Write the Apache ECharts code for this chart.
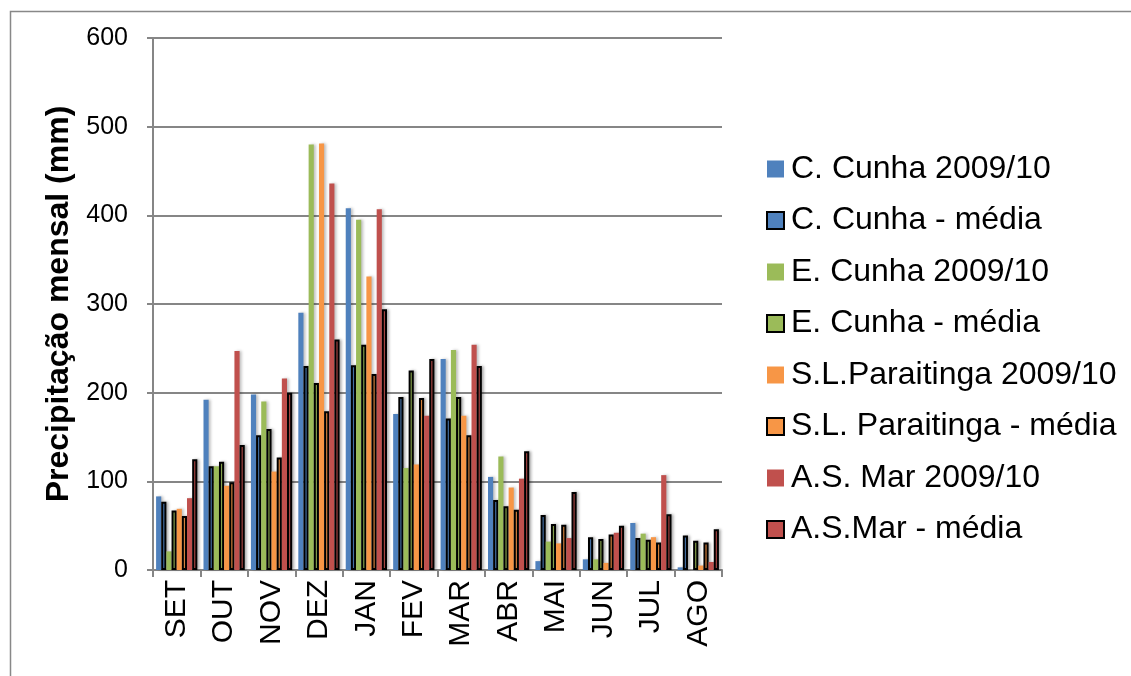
<!DOCTYPE html>
<html>
<head>
<meta charset="utf-8">
<script src="https://cdn.jsdelivr.net/npm/echarts@6/dist/echarts.min.js"></script>
<style>
  html, body { margin: 0; padding: 0; background: #fff; }
  #chart { width: 1131px; height: 676px; }
</style>
</head>
<body>
<div id="chart"></div>
<script>
// meses e precipitação (mm)
var months = ['SET', 'OUT', 'NOV', 'DEZ', 'JAN', 'FEV', 'MAR', 'ABR', 'MAI', 'JUN', 'JUL', 'AGO'];
var yTicks = [0, 100, 200, 300, 400, 500, 600];

var cCunha2009 = [83, 192, 198, 290, 408, 176, 238, 105, 10, 12, 53, 3];
var cCunhaMedia = [77, 117, 152, 230, 231, 195, 171, 79, 62, 37, 36, 39];
var eCunha2009 = [21, 117, 190, 480, 395, 115, 248, 128, 32, 12, 41, 0];
var eCunhaMedia = [67, 122, 159, 211, 254, 225, 195, 72, 52, 35, 34, 33];
var slp2009 = [69, 95, 111, 481, 331, 119, 174, 93, 30, 8, 37, 5];
var slpMedia = [61, 99, 127, 179, 221, 194, 152, 68, 51, 40, 31, 31];
var asMar2009 = [81, 247, 216, 436, 407, 174, 254, 103, 36, 42, 107, 9];
var asMarMedia = [125, 141, 200, 260, 294, 238, 230, 134, 88, 50, 63, 46];

var font = "Arial, 'Liberation Sans', sans-serif";

function bar(name, data, color, media) {
  var style = {
    color: color,
    shadowColor: 'rgba(0,0,0,0.25)',
    shadowBlur: 3,
    shadowOffsetX: 2
  };
  if (media) {
    style.borderColor = '#000';
    style.borderWidth = 2;
  }
  return {
    name: name,
    type: 'bar',
    data: data,
    barGap: '0%',
    barCategoryGap: '13%',
    itemStyle: style
  };
}

var myChart = echarts.init(document.getElementById('chart'));
var option = {
  backgroundColor: '#fff',
  animation: false,
  graphic: [{
    type: 'rect',
    left: 8, top: 9,
    shape: { width: 1200, height: 800 },
    style: { fill: 'none', stroke: '#888', lineWidth: 1.5 }
  }],
  grid: { left: 153, right: 409, top: 38, bottom: 106 },
  legend: {
    orient: 'vertical',
    left: 766,
    top: 153,
    padding: 0,
    itemWidth: 17,
    itemHeight: 17,
    itemGap: 19.5,
    icon: 'rect',
    itemStyle: { shadowBlur: 0, shadowOffsetX: 0, shadowColor: 'transparent' },
    textStyle: { fontFamily: font, fontSize: 32, lineHeight: 30, color: '#000', padding: [0, 0, 0, 2] }
  },
  xAxis: {
    type: 'category',
    data: months,
    axisLine: { lineStyle: { color: '#868686', width: 2 } },
    axisTick: { show: true, length: 7, lineStyle: { color: '#868686', width: 2 } },
    axisLabel: { rotate: 90, margin: 10, fontFamily: font, fontSize: 30, color: '#000' }
  },
  yAxis: {
    type: 'value',
    min: yTicks[0],
    max: yTicks[yTicks.length - 1],
    interval: 100,
    name: 'Precipitação mensal (mm)',
    nameLocation: 'middle',
    nameGap: 74,
    nameTextStyle: { fontFamily: font, fontSize: 32, fontWeight: 'bold', color: '#000' },
    axisLine: { show: true, lineStyle: { color: '#868686', width: 2 } },
    axisTick: { show: true, length: 6, lineStyle: { color: '#868686', width: 2 } },
    axisLabel: { margin: 25, fontFamily: font, fontSize: 25, color: '#000' },
    splitLine: { lineStyle: { color: '#868686', width: 2 } }
  },
  series: [
    bar('C. Cunha 2009/10', cCunha2009, '#4F81BD', false),
    bar('C. Cunha - média', cCunhaMedia, '#4F81BD', true),
    bar('E. Cunha 2009/10', eCunha2009, '#9BBB59', false),
    bar('E. Cunha - média', eCunhaMedia, '#9BBB59', true),
    bar('S.L.Paraitinga 2009/10', slp2009, '#F79646', false),
    bar('S.L. Paraitinga - média', slpMedia, '#F79646', true),
    bar('A.S. Mar 2009/10', asMar2009, '#C0504D', false),
    bar('A.S.Mar - média', asMarMedia, '#C0504D', true)
  ]
};
myChart.setOption(option);
window.onresize = myChart.resize;
</script>
</body>
</html>
